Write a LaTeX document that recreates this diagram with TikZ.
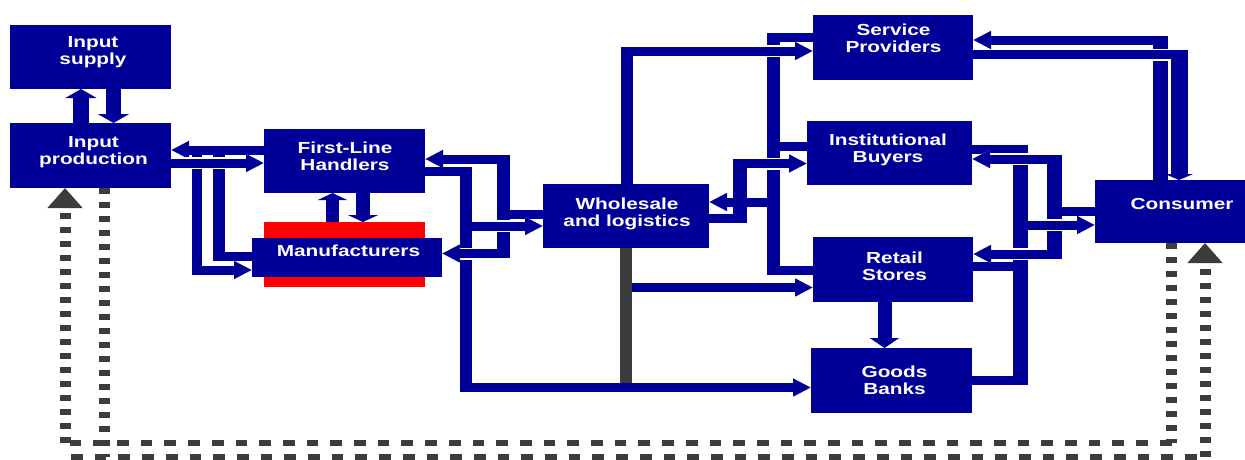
\documentclass[tikz,border=0pt]{standalone}
\usepackage{fontspec}
\usepackage{tikz}
\usetikzlibrary{arrows.meta,backgrounds}
\newfontfamily\boxfamily[FakeStretch=1.3]{Liberation Sans}
\definecolor{navy}{RGB}{0,0,153}
\definecolor{darkbar}{RGB}{60,60,60}

\begin{document}
\begin{tikzpicture}[x=1pt,y=-1pt,
  box/.style={fill=navy,inner sep=0pt,outer sep=0pt},
  txt/.style={text=white,font=\boxfamily\bfseries\fontsize{16pt}{17pt}\selectfont,align=center,inner sep=0pt},
  flow/.style={draw=navy,line width=9pt},
  riser/.style={draw=navy,shorten <=-4.5pt,shorten >=-4.5pt},
  fwd/.style={-{Triangle[length=18pt,width=17pt]}},
  bigfwd/.style={draw=navy,-{Triangle[length=9pt,width=31pt]}},
  bridge/.style={preaction={draw=white,line width=12pt}},
  dashv/.style={draw=darkbar,line width=11pt,dash pattern=on 5.7pt off 8.3pt},
  dashh/.style={draw=darkbar,line width=5.7pt,dash pattern=on 11.7pt off 12pt},
  graytip/.style={-{Triangle[length=20pt,width=34pt]}}]
\useasboundingbox (0,0) rectangle (1245,459);

\node[box,minimum width=161pt,minimum height=64pt] (insup) at (90.5,57) {};
\node[box,minimum width=161pt,minimum height=65pt] (inprod) at (90.5,155.5) {};
\node[box,minimum width=161pt,minimum height=64pt] (handlers) at (344.5,161) {};
\node[fill=red,inner sep=0pt,outer sep=0pt,minimum width=161pt,minimum height=65pt] (mfrbase) at (344.5,254.5) {};
\node[box,minimum width=190pt,minimum height=39pt] (mfr) at (347,257.5) {};
\node[box,minimum width=166pt,minimum height=64pt] (wholesale) at (626,216) {};
\node[box,minimum width=160pt,minimum height=65pt] (service) at (893,47.5) {};
\node[box,minimum width=165pt,minimum height=64pt] (inst) at (889.5,153) {};
\node[box,minimum width=160pt,minimum height=65pt] (retail) at (893,269.5) {};
\node[box,minimum width=161pt,minimum height=65pt] (banks) at (891.5,380.5) {};
\node[box,minimum width=160pt,minimum height=63pt] (consumer) at (1175,211.5) {};

\node[txt] (insup-t) at (93,52.3) {Input\\supply};
\node[txt] (inprod-t) at (93.5,152) {Input\\production};
\node[txt] (handlers-t) at (345,155.8) {First-Line\\Handlers};
\node[txt] (mfr-t) at (348.5,250.5) {Manufacturers};
\node[txt] (wholesale-t) at (627,213.9) {Wholesale\\and logistics};
\node[txt] (service-t) at (893.5,38.7) {Service\\Providers};
\node[txt] (inst-t) at (888,150) {Institutional\\Buyers};
\node[txt] (retail-t) at (894.5,266) {Retail\\Stores};
\node[txt] (banks-t) at (894.5,380.7) {Goods\\Banks};
\node[txt] (consumer-t) at (1182,204) {Consumer};

\begin{scope}[on background layer]
\draw[bigfwd,line width=16pt] (inprod.north -| 81,0) -- (insup.south -| 81,0);
\draw[bigfwd,line width=15pt] (insup.south -| 113.5,0) -- (inprod.north -| 113.5,0);
\draw[bigfwd,line width=13pt,-{Triangle[length=7pt,width=29pt]}] (mfrbase.north -| 332.5,0) -- (handlers.south -| 332.5,0);
\draw[bigfwd,line width=14pt,-{Triangle[length=7pt,width=30pt]}] (handlers.south -| 363,0) -- (mfrbase.north -| 363,0);

\draw[flow] (219,256) -- (mfr.west |- 0,256);
\draw[riser,line width=12pt] (219,154) -- (219,256);
\draw[flow,fwd] (197,270) -- (mfr.west |- 0,270);
\draw[riser,line width=10pt] (197,154) -- (197,270);
\draw[flow,fwd] (handlers.west |- 0,150) -- (inprod.east |- 0,150);
\draw[flow,fwd,bridge] (inprod.east |- 0,163) -- (handlers.west |- 0,163);

\draw[flow,fwd] (wholesale.west |- 0,214) -| (503,159) -- (handlers.east |- 0,159);
\draw[flow,fwd] (handlers.east |- 0,171) -| (466,387.5) -- (banks.west |- 0,387.5);
\draw[riser,line width=12pt] (466,171) -- (466,387.5);
\draw[flow,fwd,bridge] (503,253.5) -- (mfr.east |- 0,253.5);
\draw[riser,line width=13pt] (503,159) -- (503,253.5);
\draw[flow,fwd,bridge] (472,226) -- (wholesale.west |- 0,226);

\draw[flow] (service.west |- 0,37.5) -| (773.5,270) -- (retail.west |- 0,270);
\draw[riser,line width=13pt] (773.5,37.5) -- (773.5,270);
\draw[flow] (inst.west |- 0,146) -- (773.5,146);
\draw[riser,line width=12pt] (wholesale.north -| 627,0) -- (627,51);
\draw[flow,fwd,bridge] (633,51) -- (service.west |- 0,51);
\draw[flow] (wholesale.east |- 0,218) -- (740,218);
\draw[riser,line width=14pt] (740,163.5) -- (740,218);
\draw[flow,fwd,bridge] (747,163.5) -- (inst.west |- 0,163.5);
\draw[flow,fwd] (767,202) -- (wholesale.east |- 0,202);
\draw[draw=darkbar,line width=12pt] (wholesale.south -| 626,0) -- (626,383);
\draw[flow,fwd] (632,287.5) -- (retail.west |- 0,287.5);
\draw[bigfwd,line width=14pt,-{Triangle[length=10pt,width=29pt]}] (retail.south -| 884.5,0) -- (banks.north -| 884.5,0);

\draw[flow] (inst.east |- 0,149) -| (1020.5,380) -- (banks.east |- 0,380);
\draw[riser,line width=15pt] (1020.5,149) -- (1020.5,380);
\draw[flow] (retail.east |- 0,266.5) -- (1020.5,266.5);
\draw[flow,fwd,bridge] (1054.5,159) -- (inst.east |- 0,159);
\draw[flow,fwd,bridge] (1054.5,254) -- (retail.east |- 0,254);
\draw[flow] (consumer.west |- 0,211) -- (1054.5,211);
\draw[riser,line width=15pt] (1054.5,159) -- (1054.5,254);
\draw[flow,fwd,bridge] (1028,225) -- (consumer.west |- 0,225);

\draw[riser,line width=15pt] (consumer.north -| 1160.5,0) -- (1160.5,40);
\draw[flow,fwd] (1160.5,40) -- (service.east |- 0,40);
\draw[flow,bridge] (service.east |- 0,54.5) -- (1179,54.5);
\draw[bigfwd,line width=17pt,-{Triangle[length=6pt,width=28pt]}] (1179,50) -- (consumer.north -| 1179,0);

\draw[dashv] (consumer.south -| 1171.5,0) -- (1171.5,443);
\draw[dashh] (1171.5,443) -- (65,443);
\draw[dashv,graytip] (65,443) -- (inprod.south -| 65,0);
\draw[dashv] (inprod.south -| 104,0) -- (104,457);
\draw[dashh] (71,457) -- (1205,457);
\draw[dashv,graytip] (1205,457) -- (consumer.south -| 1205,0);
\end{scope}
\end{tikzpicture}
\end{document}
